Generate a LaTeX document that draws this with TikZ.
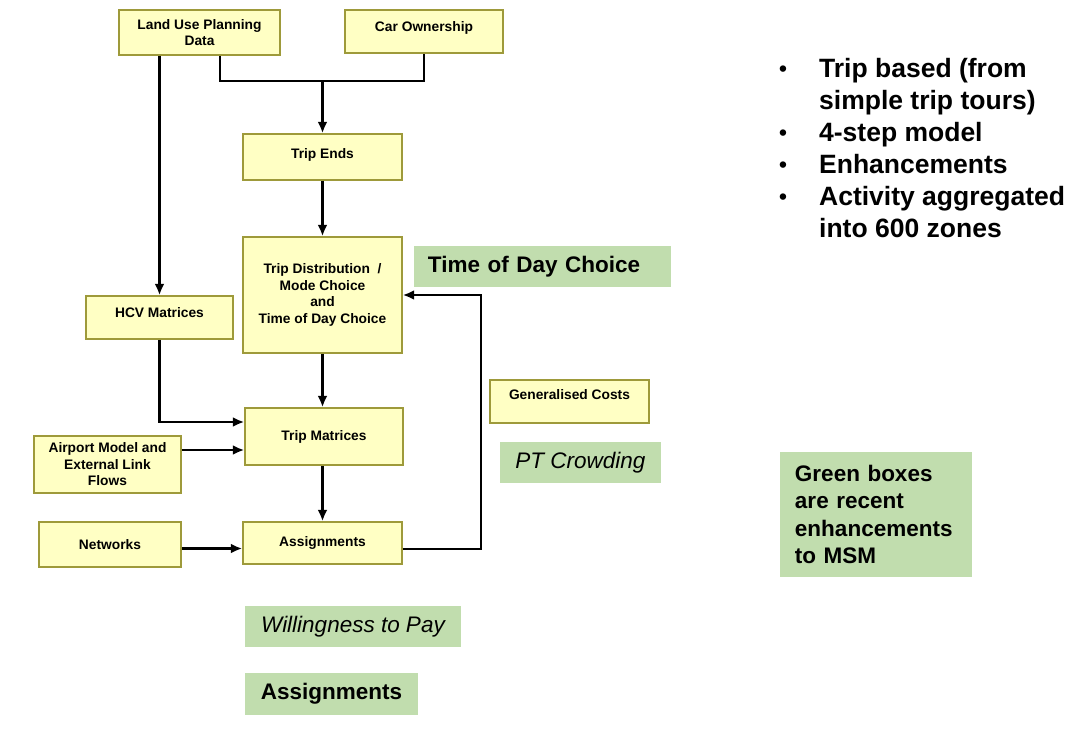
\documentclass[tikz,border=0pt]{standalone}
\usepackage{fontspec}
\setmainfont{Liberation Sans}
\usetikzlibrary{arrows, arrows.meta, calc, positioning}
\definecolor{myPaleYellow}{RGB}{255, 255, 196}
\definecolor{myOlive}{RGB}{158, 154, 58}
\definecolor{myGreen}{RGB}{193, 221, 174}
\tikzstyle{box}= [draw=myOlive, fill=myPaleYellow, line width=1.1pt, align=center, inner sep=0pt]
\tikzstyle{Box}= [box, font=\fontsize{9.8}{11.7}\selectfont\bfseries]
\tikzstyle{greenbox}= [fill=myGreen, inner sep=0pt, font=\fontsize{16}{19.6}\selectfont]
\newcommand{\bul}{\raisebox{0.5pt}{\fontsize{16}{16}\selectfont\textbullet}}

\begin{document}
\begin{tikzpicture}[x=0.025cm, y=-0.025cm, >={Latex[length=8pt, width=7pt]}, line width=1.6pt]
    \useasboundingbox (0,0) rectangle (1084,729);

    % model boxes
    \node [Box, minimum width=4.025cm, minimum height=1.125cm] (LandUse) at (199.5,32.5) {Land Use Planning\\Data};
    \node [Box, minimum width=3.95cm, minimum height=1.075cm, text depth=0.25cm] (CarOwn) at (424,31.5) {Car Ownership};
    \node [Box, minimum width=3.975cm, minimum height=1.15cm, text depth=0.17cm] (TripEnds) at (322.5,157) {Trip Ends};
    \node [Box, minimum width=3.975cm, minimum height=2.9cm] (TripDist) at (322.5,295)
    {Trip Distribution~~/\\Mode Choice\\and\\Time of Day Choice};
    \node [Box, minimum width=3.675cm, minimum height=1.075cm, text depth=0.25cm] (HCV) at (159.5,317.5) {HCV Matrices};
    \node [Box, minimum width=3.95cm, minimum height=1.425cm] (TripMat) at (324,436.5) {Trip Matrices};
    \node [Box, minimum width=3.675cm, minimum height=1.425cm] (Airport) at (107.5,464.5)
    {Airport Model and\\External Link\\Flows};
    \node [Box, minimum width=3.55cm, minimum height=1.125cm] (Networks) at (110,544.5) {Networks};
    \node [Box, minimum width=3.975cm, minimum height=1.05cm] (Assign) at (322.5,543) {Assignments};
    \node [Box, minimum width=3.975cm, minimum height=1.075cm, text depth=0.37cm] (GenCosts) at (569.5,401.5) {Generalised Costs};

    % recent enhancements
    \node [greenbox, font=\fontsize{16}{19.6}\selectfont\bfseries, text width=5.725cm, inner xsep=0.35cm,
    minimum height=1.025cm, align=left] (TimeOfDay) at (542.5,266.5) {Time of Day Choice};
    \node [greenbox, minimum width=4.025cm, minimum height=1.025cm] (Crowding) at (580.5,462.5) {\itshape PT Crowding};
    \node [greenbox, minimum width=5.4cm, minimum height=1.025cm] (Willing) at (353,626.5) {\itshape Willingness to Pay};
    \node [greenbox, font=\fontsize{16}{19.6}\selectfont\bfseries, minimum width=4.325cm,
    minimum height=1.05cm] (AssignNew) at (331.5,694) {Assignments};
    \node [greenbox, font=\fontsize{16}{19.6}\selectfont\bfseries, text width=4.05cm, inner xsep=0.375cm,
    minimum height=3.125cm, align=left] (Legend) at (876,514.5)
    {Green boxes\\are recent\\enhancements\\to MSM};

    % key points
    \node [anchor=base west, inner sep=0pt, font=\fontsize{18.85}{22.8}\selectfont\bfseries] (Points) at (778,77)
    {\begin{tabular}[t]{@{}p{1cm}@{}l@{}}
    \bul & Trip based (from\\
     & simple trip tours)\\
    \bul & 4-step model\\
    \bul & Enhancements\\
    \bul & Activity aggregated\\
     & into 600 zones
    \end{tabular}};

    % inputs to trip ends
    \coordinate (merge) at ($(LandUse.south)+(20.5,25)$);
    \draw (LandUse.south -| merge) -- (merge) -| (CarOwn.south);
    \draw[->] (merge -| TripEnds.north) -- (TripEnds.north);
    \draw[->] (LandUse.south -| HCV.north) -- (HCV.north);

    % main chain
    \draw[->] (TripEnds.south) -- (TripDist.north);
    \draw[->] (TripDist.south) -- (TripDist.south |- TripMat.north);
    \draw[->] (TripDist.south |- TripMat.south) -- (TripDist.south |- Assign.north);

    % side inputs
    \draw[->] (HCV.south) |- ($(TripMat.west)+(0,-14.5)$);
    \coordinate (airIn) at ($(Airport.east)+(0,-14.5)$);
    \draw[->] (airIn) -- (airIn -| TripMat.west);
    \coordinate (netOut) at ($(Networks.east)+(0,4)$);
    \draw[->] (netOut) -- (netOut -| Assign.west);

    % feedback loop
    \draw[->] ($(Assign.east)+(0,6)$) -- ++(78,0) |- (TripDist.east);

\end{tikzpicture}
\end{document}
